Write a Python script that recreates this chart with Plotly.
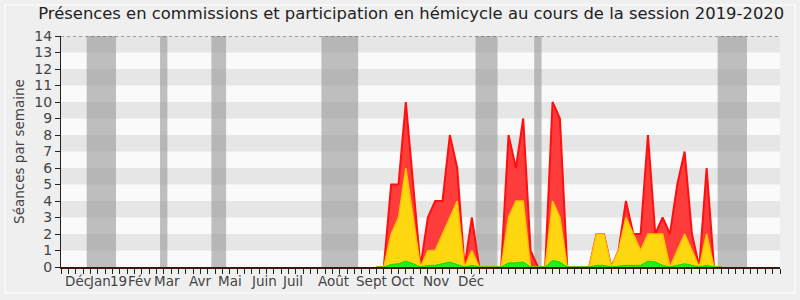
import plotly.graph_objects as go

# weekly data (week index on x axis)
weeks = list(range(43, 91))
red = [0, 0, 5, 5, 10, 5, 0, 3, 4, 4, 8, 6, 0, 3, 0, 0, 0, 0, 8, 6, 9, 1, 0, 0,
       10, 9, 0, 0, 0, 0, 2, 2, 0, 1, 4, 2, 2, 8, 2, 3, 2, 5, 7, 2, 0, 6, 0, 0]
yellow = [0, 0, 2, 3, 6, 3, 0, 1, 1, 2, 3, 4, 0, 1, 0, 0, 0, 0, 3, 4, 4, 0, 0, 0,
          4, 3, 0, 0, 0, 0, 2, 2, 0, 1, 3, 2, 1, 2, 2, 2, 0, 1, 2, 1, 0, 2, 0, 0]
green = [0, 0, 0.15, 0.2, 0.35, 0.2, 0, 0.1, 0.1, 0.2, 0.3, 0.15, 0, 0.1, 0, 0, 0, 0,
         0.25, 0.25, 0.3, 0, 0, 0, 0.4, 0.3, 0, 0, 0, 0, 0.1, 0.1, 0, 0.05, 0.1, 0.1,
         0.1, 0.35, 0.3, 0.1, 0, 0.1, 0.2, 0.1, 0, 0.1, 0, 0]

vacations = [(3.5, 7.5), (13.5, 14.5), (20.5, 22.5), (35.5, 40.5), (56.5, 59.5),
             (64.5, 65.5), (89.5, 93.5)]

month_labels = ["Déc", "Jan", "19", "Fév", "Mar", "Avr", "Mai", "Juin", "Juil",
                "Août", "Sept", "Oct", "Nov", "Déc"]
month_pos = [2.3, 5.35, 7.9, 10.7, 14.4, 18.95, 23.0, 27.7, 31.6, 37.1, 42.3, 46.5,
             51.1, 55.9]

n_weeks = 98
y_max = 14

fig = go.Figure()

fig.add_trace(go.Scatter(x=weeks, y=red, mode="lines", fill="tozeroy",
                         line=dict(color="#ff1010", width=2), fillcolor="#ff3c3c",
                         hoverinfo="skip"))
fig.add_trace(go.Scatter(x=weeks, y=yellow, mode="lines", fill="tozeroy",
                         line=dict(color="#ffc400", width=1.5), fillcolor="#ffd710",
                         hoverinfo="skip"))
fig.add_trace(go.Scatter(x=weeks, y=green, mode="lines", fill="tozeroy",
                         line=dict(color="#00e000", width=1), fillcolor="#22ee22",
                         hoverinfo="skip"))

shapes = []
# horizontal stripes
for y0 in range(1, y_max, 2):
    shapes.append(dict(type="rect", xref="x", yref="y", x0=0, x1=n_weeks, y0=y0, y1=y0 + 1,
                       fillcolor="#e6e6e6", line=dict(width=0), layer="below"))
# vacation bands
for a, b in vacations:
    shapes.append(dict(type="rect", xref="x", yref="y", x0=a, x1=b, y0=0, y1=y_max,
                       fillcolor="rgba(150,150,150,0.6)", line=dict(width=0), layer="below"))
# dotted top line
shapes.append(dict(type="line", xref="x", yref="y", x0=0, x1=n_weeks, y0=y_max, y1=y_max,
                   line=dict(color="#555", width=1, dash="dot"), layer="above"))
# outer frame
shapes.append(dict(type="rect", xref="paper", yref="paper",
                   x0=-56 / 719, x1=1 + 15 / 719, y0=-26 / 231, y1=1 + 31 / 231,
                   line=dict(color="#fafafa", width=1.5), fillcolor="rgba(0,0,0,0)",
                   layer="below"))

annotations = []
for lab, pos in zip(month_labels, month_pos):
    annotations.append(dict(x=pos, y=0, xref="x", yref="paper", text=lab, showarrow=False,
                            yanchor="top", xanchor="center", yshift=-4,
                            font=dict(family="DejaVu Sans", size=13.5, color="#444")))

fig.update_layout(
    width=800, height=300,
    margin=dict(l=61, r=20, t=36, b=33),
    paper_bgcolor="#efefef",
    plot_bgcolor="#fafafa",
    showlegend=False,
    shapes=shapes,
    annotations=annotations,
    title=dict(text="Présences en commissions et participation en hémicycle au cours de la session 2019-2020",
               x=0.514, xanchor="center", y=0.975, yanchor="top",
               font=dict(family="DejaVu Sans", size=16.4, color="#222")),
    font=dict(family="DejaVu Sans", color="#444"),
)
fig.update_xaxes(range=[0, n_weeks], tickvals=list(range(0, n_weeks + 1)), showticklabels=False,
                 ticks="outside", ticklen=5, tickcolor="#222", showgrid=False, zeroline=False,
                 showline=True, linecolor="#3a1a10", linewidth=1.5, fixedrange=True)
fig.update_yaxes(range=[0, y_max], tickvals=list(range(0, y_max + 1)), ticks="outside", ticklen=5,
                 tickcolor="#222", showgrid=False, zeroline=False, showline=True,
                 linecolor="#222", linewidth=1, tickfont=dict(size=14, color="#444"),
                 title=dict(text="Séances par semaine", font=dict(size=13.5, color="#444"), standoff=6),
                 fixedrange=True)

fig.write_html("out.html")
